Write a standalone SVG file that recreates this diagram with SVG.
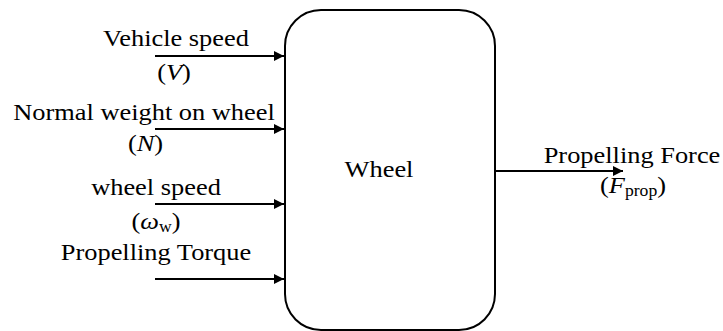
<svg xmlns="http://www.w3.org/2000/svg" width="723" height="331" viewBox="0 0 723 331">
  <style>
    .lbl { font-family: "Liberation Serif", "Times New Roman", serif; font-size: 24px; fill: #000; text-anchor: middle; }
    .it { font-style: italic; }
    .sub { font-size: 16px; }
    .wire { stroke: #000; stroke-width: 2; fill: none; }
    .box { stroke: #000; stroke-width: 2; fill: #fff; }
  </style>
  <defs>
    <marker id="arrow" viewBox="0 0 10 10" refX="10" refY="5" markerWidth="10" markerHeight="10" markerUnits="userSpaceOnUse" orient="auto">
      <path d="M0,0 L10,5 L0,10 z" fill="#000"/>
    </marker>
  </defs>

  <g id="wheel">
    <rect class="box" x="285" y="10" width="210" height="320" rx="36" ry="36"/>
    <text class="lbl" transform="translate(379,177) scale(1.1,1)">Wheel</text>
  </g>

  <g id="connectors">
    <line class="wire" x1="155" y1="56" x2="284" y2="56" marker-end="url(#arrow)"/>
    <line class="wire" x1="155" y1="129" x2="284" y2="129" marker-end="url(#arrow)"/>
    <line class="wire" x1="155" y1="204" x2="284" y2="204" marker-end="url(#arrow)"/>
    <line class="wire" x1="155" y1="279" x2="284" y2="279" marker-end="url(#arrow)"/>
    <line class="wire" x1="495" y1="171" x2="623" y2="171" marker-end="url(#arrow)"/>
  </g>

  <g id="in-vehicle-speed">
    <text class="lbl" transform="translate(176,46) scale(1.1,1)">Vehicle speed</text>
    <text class="lbl" transform="translate(174,80) scale(1.1,1)">(<tspan class="it">V</tspan>)</text>
  </g>

  <g id="in-normal-weight">
    <text class="lbl" transform="translate(144,120) scale(1.1,1)">Normal weight on wheel</text>
    <text class="lbl" transform="translate(145.5,151) scale(1.1,1)">(<tspan class="it">N</tspan>)</text>
  </g>

  <g id="in-wheel-speed">
    <text class="lbl" transform="translate(156,195) scale(1.1,1)">wheel speed</text>
    <text class="lbl" transform="translate(156,229) scale(1.1,1)">(<tspan class="it">ω</tspan><tspan class="sub" dy="3">w</tspan><tspan dy="-3">)</tspan></text>
  </g>

  <g id="in-propelling-torque">
    <text class="lbl" transform="translate(156,260) scale(1.1,1)">Propelling Torque</text>
  </g>

  <g id="out-propelling-force">
    <text class="lbl" transform="translate(632,163) scale(1.1,1)">Propelling Force</text>
    <text class="lbl" transform="translate(633,193) scale(1.1,1)">(<tspan class="it">F</tspan><tspan class="sub" dy="3">prop</tspan><tspan dy="-3">)</tspan></text>
  </g>
</svg>
